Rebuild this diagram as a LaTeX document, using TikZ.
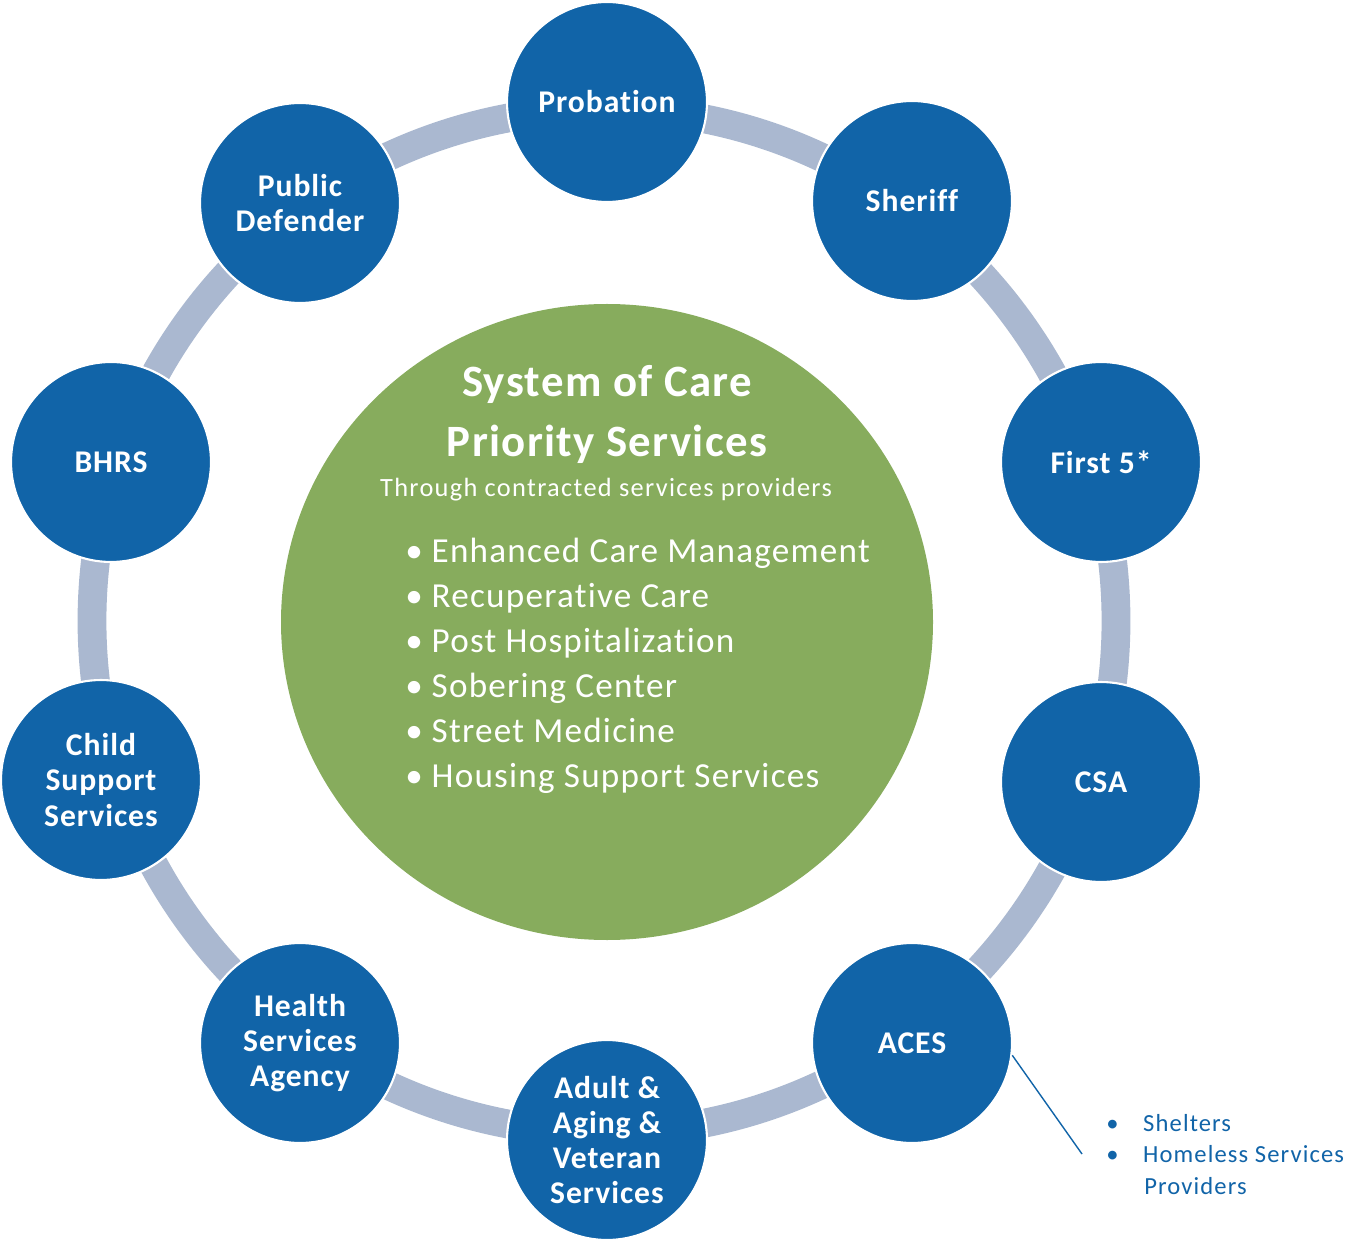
\documentclass[tikz,border=0pt]{standalone}
\usepackage{fontspec}
\setmainfont{Carlito}[Ligatures=NoCommon]

\definecolor{agencyblue}{RGB}{17,100,168}
\definecolor{ringgray}{RGB}{170,184,208}
\definecolor{socgreen}{RGB}{135,172,93}

\begin{document}
\begin{tikzpicture}[x=0.02cm,y=-0.02cm,
    agency/.style={circle,fill=agencyblue,draw=white,line width=1.2pt,minimum size=4cm,inner sep=0pt,
        text=white,align=center,font=\fontsize{18}{20}\selectfont\bfseries\addfontfeatures{LetterSpace=3}},
    ring/.style={ringgray,line width=16.4pt},
    headline/.style={anchor=base,inner sep=0pt,text=white,font=\fontsize{25.5}{28}\selectfont\bfseries\addfontfeatures{LetterSpace=3}},
    bulletitem/.style={anchor=base west,inner sep=0pt,text=white,font=\fontsize{20}{24}\selectfont\addfontfeatures{LetterSpace=3.5}},
    note/.style={anchor=base west,inner sep=0pt,text=agencyblue,font=\fontsize{14}{18}\selectfont\addfontfeatures{LetterSpace=4.5}}]

    \useasboundingbox (0,0) rectangle (1345,1239);

    % ring and core
    \draw[ring] (604,621) circle (512);
    \fill[socgreen] (607,622) ellipse (326 and 318);

    % agencies
    \foreach \x/\y/\id/\txt in {607/102/probation/Probation, 912/201/sheriff/Sheriff,
        1101/462/first/First 5*, 1101/782/csa/CSA, 912/1043/aces/ACES,
        607/1140/adult/{Adult \&\\Aging \&\\Veteran\\Services},
        300/1043/hsa/{Health\\Services\\Agency}, 101/780/child/{Child\\Support\\Services},
        111/462/bhrs/BHRS, 300/203/pd/{Public\\Defender}}
        \node[agency] (\id) at (\x,\y) {\txt};

    % centre text
    \node[headline] (title) at (607,397) {System of Care};
    \node[headline] (subtitle) at (607,457) {Priority Services};
    \node[anchor=base,inner sep=0pt,text=white,font=\fontsize{15}{18}\selectfont\addfontfeatures{LetterSpace=5}] (through) at (606,497)
        {Through contracted services providers};
    \foreach \k/\txt in {0/Enhanced Care Management, 1/Recuperative Care, 2/Post Hospitalization,
        3/Sobering Center, 4/Street Medicine, 5/Housing Support Services}
        \node[bulletitem] (item\k) at (405,563+44.8*\k) {\makebox[15pt][l]{\textbullet}\txt};

    % note on ACES
    \coordinate (noteend) at (1082,1154);
    \draw[agencyblue,line width=0.8pt] (aces.-7) -- (noteend);
    \node[note] (shelters) at (1106,1131) {\makebox[21pt][l]{\textbullet}Shelters};
    \node[note] (homeless) at (1106,1162) {\makebox[21pt][l]{\textbullet}Homeless Services};
    \node[note] (providers) at (1144,1194) {Providers};

\end{tikzpicture}
\end{document}
